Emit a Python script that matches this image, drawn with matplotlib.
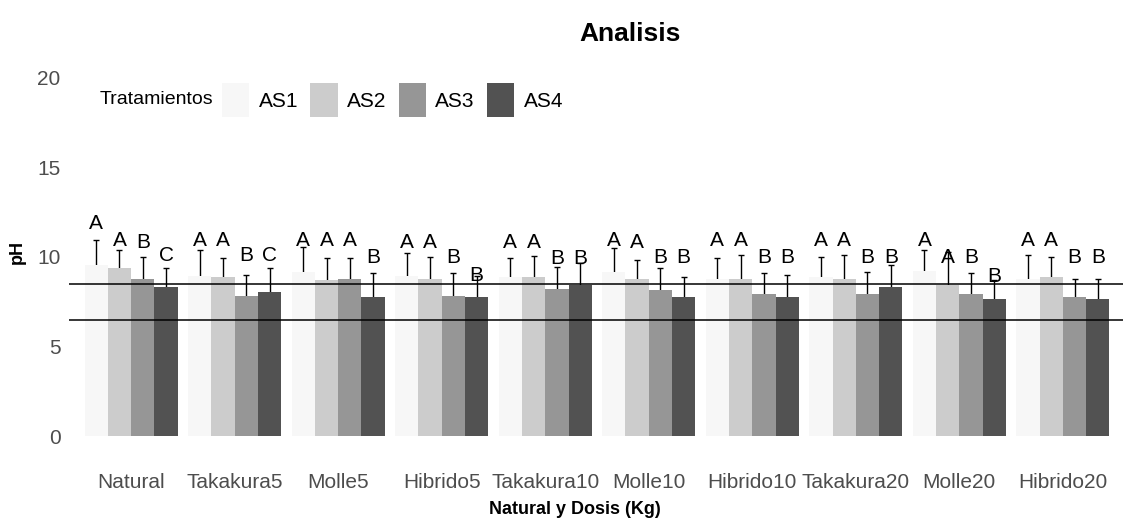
import matplotlib
matplotlib.use("Agg")
import matplotlib.pyplot as plt
import numpy as np
from matplotlib.patches import Patch

plt.rcParams["font.family"] = ["Liberation Sans", "DejaVu Sans"]

grupos = ["Natural", "Takakura5", "Molle5", "Hibrido5", "Takakura10",
          "Molle10", "Hibrido10", "Takakura20", "Molle20", "Hibrido20"]
tratamientos = ["AS1", "AS2", "AS3", "AS4"]
colores = ["#F7F7F7", "#CCCCCC", "#969696", "#525252"]

media_as1 = [9.55, 8.94, 9.16, 8.94, 8.88, 9.16, 8.77, 8.88, 9.20, 8.77]
media_as2 = [9.39, 8.88, 8.72, 8.77, 8.88, 8.77, 8.77, 8.77, 8.44, 8.88]
media_as3 = [8.77, 7.82, 8.77, 7.82, 8.21, 8.16, 7.93, 7.93, 7.93, 7.77]
media_as4 = [8.32, 8.04, 7.77, 7.77, 8.44, 7.77, 7.77, 8.32, 7.65, 7.65]

sd_as1 = [1.40, 1.45, 1.40, 1.28, 1.06, 1.34, 1.17, 1.12, 1.20, 1.34]
sd_as2 = [1.00, 1.06, 1.22, 1.23, 1.18, 1.06, 1.34, 1.34, 1.84, 1.12]
sd_as3 = [1.23, 1.18, 1.17, 1.28, 1.23, 1.23, 1.17, 1.23, 1.17, 1.00]
sd_as4 = [1.07, 1.35, 1.33, 1.17, 1.22, 1.11, 1.23, 1.23, 1.07, 1.12]

letras_as1 = ["A"] * 10
letras_as2 = ["A"] * 10
letras_as3 = ["B", "B", "A", "B", "B", "B", "B", "B", "B", "B"]
letras_as4 = ["C", "C", "B", "B", "B", "B", "B", "B", "B", "B"]

# altura (base) de cada letra, en unidades de pH
ylet_as1 = [11.34, 10.39, 10.39, 10.28, 10.28, 10.39, 10.39, 10.39, 10.39, 10.39]
ylet_as2 = [10.39, 10.39, 10.39, 10.28, 10.28, 10.28, 10.39, 10.39, 9.44, 10.39]
ylet_as3 = [10.28, 9.55, 10.39, 9.44, 9.39, 9.44, 9.44, 9.44, 9.44, 9.44]
ylet_as4 = [9.55, 9.55, 9.44, 8.44, 9.39, 9.44, 9.44, 9.44, 8.38, 9.44]

limites_ph = [6.5, 8.5]

medias = [media_as1, media_as2, media_as3, media_as4]
sds = [sd_as1, sd_as2, sd_as3, sd_as4]
letras = [letras_as1, letras_as2, letras_as3, letras_as4]
ylets = [ylet_as1, ylet_as2, ylet_as3, ylet_as4]

W, H = 1123, 527
fig = plt.figure(figsize=(W / 100, H / 100), dpi=100)
ax = fig.add_axes([69 / W, 73 / H, 1056 / W, 394 / H])

x = np.arange(1, len(grupos) + 1)
ancho = 0.9 / 4
for k in range(4):
    xs = x + (k - 1.5) * ancho
    ax.bar(xs, medias[k], width=ancho, color=colores[k], zorder=2)
    ax.errorbar(xs, medias[k], yerr=sds[k], fmt="none", ecolor="black",
                elinewidth=1.0, capsize=1.9, capthick=1.0, zorder=1)
    for xi, yl, lt in zip(xs, ylets[k], letras[k]):
        ax.text(xi, yl, lt, ha="center", va="bottom", fontsize=15,
                color="black", zorder=4)

for v in limites_ph:
    ax.axhline(v, color="black", lw=1.1, zorder=3)

ax.set_xlim(0.4, 10.6)
ax.set_ylim(-1, 21)
ax.set_yticks([0, 5, 10, 15, 20])
ax.set_xticks(x)
ax.set_xticklabels(grupos)
ax.tick_params(axis="both", length=0, labelsize=15, labelcolor="#4D4D4D")
ax.tick_params(axis="x", pad=14)
ax.tick_params(axis="y", pad=6)
for s in ax.spines.values():
    s.set_visible(False)

fig.text(630 / W, 1 - 34 / H, "Analisis", ha="center", va="center",
         fontsize=19, fontweight="bold")
fig.text(575 / W, 1 - 509 / H, "Natural y Dosis (Kg)", ha="center",
         va="center", fontsize=13, fontweight="bold")
fig.text(17 / W, 1 - 252 / H, "pH", ha="center", va="center", rotation=90,
         fontsize=13, fontweight="bold")

# leyenda dentro del panel, titulo a la izquierda
fig.text(100 / W, 1 - 100 / H, "Tratamientos", ha="left", va="center",
         fontsize=14, color="black")
handles = [Patch(facecolor=c, edgecolor="none") for c in colores]
ax.legend(handles, tratamientos, loc="center left", ncol=4, frameon=False,
          bbox_to_anchor=(222 / W, 1 - 100 / H), bbox_transform=fig.transFigure,
          fontsize=15, handlelength=1.3, handleheight=2.2,
          handletextpad=0.45, columnspacing=0.6, borderpad=0, borderaxespad=0)

fig.savefig("out.png", dpi=100)
